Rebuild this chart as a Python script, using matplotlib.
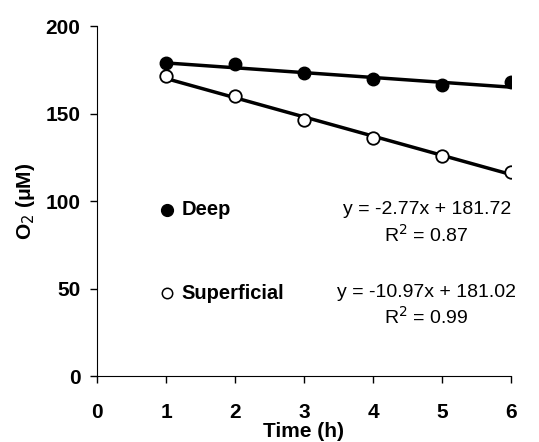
import numpy as np
import matplotlib
matplotlib.use("Agg")
from matplotlib import pyplot as plt

plt.rcParams['font.family'] = ['Liberation Sans', 'DejaVu Sans']

time_h = [1, 2, 3, 4, 5, 6]
deep = [178.7, 178.2, 173.0, 169.5, 166.2, 168.2]
superficial = [171.5, 160.0, 146.5, 136.2, 126.0, 116.5]

deep_fit = (-2.77, 181.72, 0.87)
sup_fit = (-10.97, 181.02, 0.99)

fig = plt.figure(figsize=(5.39, 4.42), dpi=100)
ax = fig.add_axes([0.18, 0.149, 0.768, 0.792])

xs = np.array([time_h[0], time_h[-1]])
ax.plot(xs, deep_fit[0] * xs + deep_fit[1], color='black', lw=2.5, zorder=2)
ax.plot(xs, sup_fit[0] * xs + sup_fit[1], color='black', lw=2.5, zorder=2)
ax.plot(time_h, deep, 'o', ms=9, mfc='black', mec='black', zorder=3)
ax.plot(time_h, superficial, 'o', ms=9, mfc='white', mec='black', mew=1.3, zorder=3)

# legend-like labels inside the plot
ax.plot([1.02], [95], 'o', ms=8.5, mfc='black', mec='black', clip_on=False)
ax.text(1.22, 95, 'Deep', fontsize=14.5, fontweight='bold', va='center')
ax.plot([1.02], [47.5], 'o', ms=7.5, mfc='white', mec='black', mew=1.1, clip_on=False)
ax.text(1.22, 47.5, 'Superficial', fontsize=14.5, fontweight='bold', va='center')

ax.text(4.78, 95, 'y = %.2fx + %.2f' % (deep_fit[0], deep_fit[1]), fontsize=14, ha='center', va='center')
ax.text(4.78, 80.5, 'R$^2$ = %.2f' % deep_fit[2], fontsize=14, ha='center', va='center')
ax.text(4.78, 48, 'y = %.2fx + %.2f' % (sup_fit[0], sup_fit[1]), fontsize=14, ha='center', va='center')
ax.text(4.78, 34, 'R$^2$ = %.2f' % sup_fit[2], fontsize=14, ha='center', va='center')

ax.set_xlim(0, 6)
ax.set_ylim(0, 200)
ax.set_xticks(range(0, 7))
ax.set_yticks([0, 50, 100, 150, 200])
for s in ['top', 'right']:
    ax.spines[s].set_visible(False)
ax.tick_params(direction='out', length=5, width=1, labelsize=15)
ax.tick_params(axis='x', pad=14)
ax.tick_params(axis='y', pad=7)
for lab in ax.get_xticklabels() + ax.get_yticklabels():
    lab.set_fontweight('bold')

ax.set_xlabel('Time (h)', fontsize=15, fontweight='bold', labelpad=0)
ax.set_ylabel('O$_2$ (\u03bcM)', fontsize=15, fontweight='bold', labelpad=6)

fig.savefig('out.png', dpi=100)
